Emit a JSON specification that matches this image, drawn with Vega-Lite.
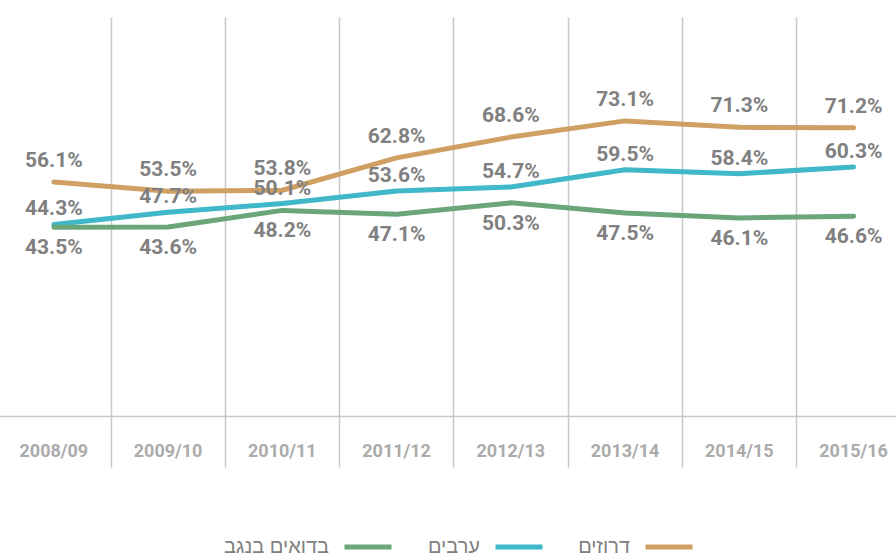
{
  "$schema": "https://vega.github.io/schema/vega-lite/v6.json",
  "width": 886,
  "height": 399,
  "autosize": {"type": "none"},
  "padding": {"left": 10, "top": 17, "right": 0, "bottom": 141},
  "background": "white",
  "config": {"view": {"stroke": null}, "font": "Roboto"},
  "data": {"values": [
    {"year": "2008/09", "group": "דרוזים", "value": 0.561},
    {"year": "2009/10", "group": "דרוזים", "value": 0.535},
    {"year": "2010/11", "group": "דרוזים", "value": 0.538},
    {"year": "2011/12", "group": "דרוזים", "value": 0.628},
    {"year": "2012/13", "group": "דרוזים", "value": 0.686},
    {"year": "2013/14", "group": "דרוזים", "value": 0.731},
    {"year": "2014/15", "group": "דרוזים", "value": 0.713},
    {"year": "2015/16", "group": "דרוזים", "value": 0.712},
    {"year": "2008/09", "group": "ערבים", "value": 0.443},
    {"year": "2009/10", "group": "ערבים", "value": 0.477},
    {"year": "2010/11", "group": "ערבים", "value": 0.501},
    {"year": "2011/12", "group": "ערבים", "value": 0.536},
    {"year": "2012/13", "group": "ערבים", "value": 0.547},
    {"year": "2013/14", "group": "ערבים", "value": 0.595},
    {"year": "2014/15", "group": "ערבים", "value": 0.584},
    {"year": "2015/16", "group": "ערבים", "value": 0.603},
    {"year": "2008/09", "group": "בדואים בנגב", "value": 0.435},
    {"year": "2009/10", "group": "בדואים בנגב", "value": 0.436},
    {"year": "2010/11", "group": "בדואים בנגב", "value": 0.482},
    {"year": "2011/12", "group": "בדואים בנגב", "value": 0.471},
    {"year": "2012/13", "group": "בדואים בנגב", "value": 0.503},
    {"year": "2013/14", "group": "בדואים בנגב", "value": 0.475},
    {"year": "2014/15", "group": "בדואים בנגב", "value": 0.461},
    {"year": "2015/16", "group": "בדואים בנגב", "value": 0.466}
  ]},
  "encoding": {
    "x": {
      "field": "year", "type": "ordinal", "bandPosition": 0.5,
      "scale": {"type": "band", "range": [-13.25, 900.75], "paddingInner": 0, "paddingOuter": 0},
      "axis": {
        "title": null, "bandPosition": 0, "grid": true, "gridColor": "#c8c8c8", "gridWidth": 1.5,
        "ticks": true, "tickSize": 51, "tickColor": "#c8c8c8", "tickWidth": 1.5, "domain": false,
        "labelAngle": 0, "labelOffset": 0, "labelPadding": -25, "labelAlign": "center", "labelBaseline": "top",
        "labelBound": false, "labelOverlap": false, "labelFlush": false, "labelFontSize": 18, "labelFontWeight": "bold",
        "labelColor": "#ababab", "labelFont": "Roboto"
      }
    },
    "y": {
      "field": "value", "type": "quantitative",
      "scale": {"domain": [-0.09, 1.02], "nice": false, "zero": false},
      "axis": {"title": null, "values": [-0.09], "grid": true, "gridColor": "#c8c8c8", "gridWidth": 1.5,
               "ticks": false, "labels": false, "domain": false}
    }
  },
  "layer": [
    {
      "mark": {"type": "line", "strokeWidth": 5, "strokeCap": "round", "strokeJoin": "round"},
      "encoding": {
        "color": {
          "field": "group", "type": "nominal",
          "scale": {"domain": ["בדואים בנגב", "ערבים", "דרוזים"], "range": ["#6BA67B", "#41B7CA", "#D09F63"]},
          "legend": {
            "title": null, "orient": "none", "legendX": 332, "legendY": 504, "direction": "horizontal", "symbolType": "stroke",
            "symbolStrokeWidth": 5, "symbolSize": 2209, "labelFontSize": 20, "labelFont": "Liberation Sans",
            "labelColor": "#808080", "labelAlign": "right", "labelOffset": -65, "columnPadding": 25,
            "labelLimit": 300
          }
        }
      }
    },
    {
      "transform": [{"filter": {"field": "group", "equal": "דרוזים"}}],
      "mark": {"type": "text", "fontSize": 21, "fontWeight": "bold", "color": "#808080", "dy": -21},
      "encoding": {"text": {"field": "value", "type": "quantitative", "format": ".1%"}}
    },
    {
      "transform": [{"filter": {"field": "group", "equal": "ערבים"}}],
      "mark": {"type": "text", "fontSize": 21, "fontWeight": "bold", "color": "#808080", "dy": -15},
      "encoding": {"text": {"field": "value", "type": "quantitative", "format": ".1%"}}
    },
    {
      "transform": [{"filter": {"field": "group", "equal": "בדואים בנגב"}}],
      "mark": {"type": "text", "fontSize": 21, "fontWeight": "bold", "color": "#808080", "dy": 21},
      "encoding": {"text": {"field": "value", "type": "quantitative", "format": ".1%"}}
    }
  ]
}
